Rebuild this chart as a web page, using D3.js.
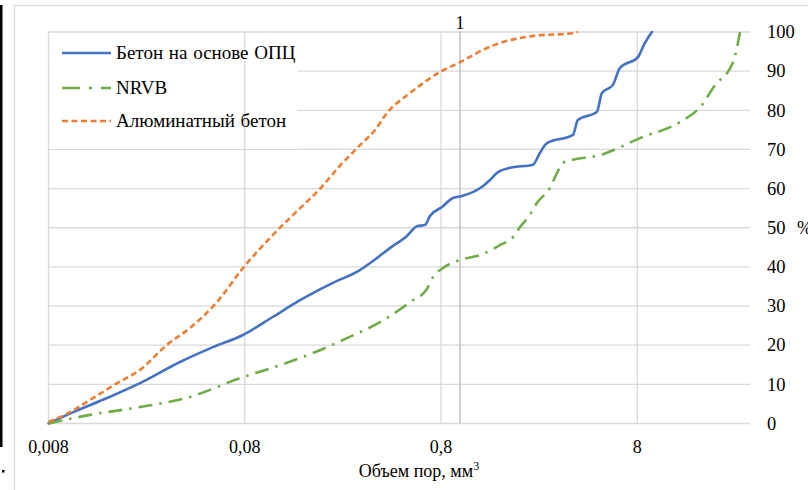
<!DOCTYPE html>
<html>
<head>
<meta charset="utf-8">
<script src="https://cdn.jsdelivr.net/npm/d3@7/dist/d3.min.js"></script>
<style>
  body { margin: 0; background: #fff; }
</style>
</head>
<body>
<div id="chart"></div>
<script>
// x = pore volume, mm3 (log axis), y = cumulative %
const opcX = [0.008, 0.0107, 0.0159, 0.0234, 0.0374, 0.0551, 0.0783, 0.111, 0.153, 0.178, 0.225, 0.309, 0.36, 0.439, 0.536, 0.603, 0.662, 0.702, 0.809, 0.92, 1.023, 1.29, 1.42, 1.54, 1.8, 2.35, 2.55, 2.77, 3.76, 3.98, 4.98, 5.28, 6.01, 6.52, 8.06, 8.74, 9.49];
const opcY = [0, 2.9, 6.5, 10.3, 15.7, 19.5, 22.6, 27.2, 31.5, 33.3, 35.9, 39.2, 41.5, 44.8, 47.9, 50.4, 50.7, 53.0, 55.3, 57.6, 58.1, 60.4, 62.2, 64.0, 65.3, 66.1, 69.1, 71.6, 73.7, 77.5, 79.6, 84.4, 86.5, 90.8, 93.6, 97.2, 100];

const nrvbX = [0.008, 0.013, 0.0234, 0.0421, 0.0756, 0.121, 0.178, 0.265, 0.391, 0.556, 0.678, 0.727, 0.818, 1.035, 1.26, 1.6, 1.86, 2.02, 2.27, 2.46, 2.87, 3.12, 3.34, 5.35, 8.25, 13.2, 16.7, 19.9, 24.6, 26.7];
const nrvbY = [0, 2.2, 4.2, 6.8, 11.6, 14.9, 18.0, 21.8, 25.9, 31.0, 34.4, 37.4, 39.7, 42.0, 43.0, 45.6, 47.6, 50.2, 53.3, 56.3, 60.2, 64.0, 66.6, 68.8, 72.9, 77.0, 80.8, 86.4, 92.3, 100];

const aluX = [0.008, 0.0103, 0.013, 0.0179, 0.0234, 0.0321, 0.0421, 0.0577, 0.0783, 0.111, 0.153, 0.193, 0.244, 0.309, 0.368, 0.424, 0.556, 0.79, 1.0, 1.37, 1.6, 2.35, 3.76, 3.98];
const aluY = [0.4, 2.9, 6.0, 10.3, 13.7, 20.1, 24.4, 31.0, 39.7, 48.1, 55.0, 59.9, 65.8, 71.1, 74.9, 79.3, 84.4, 89.8, 92.3, 95.9, 97.2, 99.0, 99.7, 100];

const seriesNames = ["Бетон на основе ОПЦ", "NRVB", "Алюминатный бетон"];
const xTicks = [0.008, 0.08, 0.8, 8];
const xTickLabels = ["0,008", "0,08", "0,8", "8"];
const yTicks = [0, 10, 20, 30, 40, 50, 60, 70, 80, 90, 100];

const width = 808, height = 490;
const svg = d3.select("#chart").append("svg").attr("width", width).attr("height", height)
  .attr("font-family", "'Liberation Serif', 'DejaVu Serif', serif");

// chart frame and page bits
svg.append("rect").attr("x", 14.5).attr("y", 5.5).attr("width", 800).attr("height", 500)
  .attr("fill", "#fff").attr("stroke", "#d9d9d9").attr("stroke-width", 1.2);
svg.append("rect").attr("x", 0).attr("y", 5).attr("width", 2.5).attr("height", 442).attr("fill", "#000");
svg.append("rect").attr("x", 2).attr("y", 470).attr("width", 2.5).attr("height", 2.5).attr("fill", "#000");

let x = d3.scaleLog().domain([0.008, 30]).range([48.5, 750]);
let y = d3.scaleLinear().domain([0, 100]).range([423.5, 32]);

// horizontal grid
svg.append("g").selectAll("line").data(yTicks).join("line")
  .attr("x1", x(0.008)).attr("x2", x(30))
  .attr("y1", d => y(d)).attr("y2", d => y(d))
  .attr("stroke", "#d9d9d9").attr("stroke-width", 1.3);

// legend background hides horizontal grid
svg.append("rect").attr("x", 49.5).attr("y", 33).attr("width", 248).attr("height", 116).attr("fill", "#fff");

// vertical grid
svg.append("g").selectAll("line").data(xTicks).join("line")
  .attr("x1", d => x(d)).attr("x2", d => x(d))
  .attr("y1", y(0)).attr("y2", y(100))
  .attr("stroke", "#d9d9d9").attr("stroke-width", 1.3);

// marker line at 1
svg.append("line").attr("x1", x(1)).attr("x2", x(1)).attr("y1", y(0)).attr("y2", y(100))
  .attr("stroke", "#bfbfbf").attr("stroke-width", 1.5);
svg.append("text").attr("x", x(1)).attr("y", 29).attr("text-anchor", "middle")
  .attr("font-size", 18).text("1");

// tick labels
svg.append("g").selectAll("text").data(xTicks).join("text")
  .attr("x", d => x(d)).attr("y", 453).attr("text-anchor", "middle").attr("font-size", 18)
  .text((d, i) => xTickLabels[i]);
svg.append("g").selectAll("text").data(yTicks).join("text")
  .attr("x", 767).attr("y", d => y(d)).attr("dy", "0.34em").attr("font-size", 18.5)
  .text(d => d);
svg.append("text").attr("x", 797).attr("y", y(50)).attr("dy", "0.34em").attr("font-size", 18).text("%");

let title = svg.append("text").attr("x", 419).attr("y", 477).attr("text-anchor", "middle").attr("font-size", 18);
title.append("tspan").text("Объем пор, мм");
title.append("tspan").attr("dy", -7).attr("font-size", 12).text("3");

// series
let line = d3.line().x(d => x(d[0])).y(d => y(d[1])).curve(d3.curveMonotoneX);
let series = [
  { xs: opcX, ys: opcY, color: "#4472c4", dash: null, cap: "round" },
  { xs: nrvbX, ys: nrvbY, color: "#70ad47", dash: "14,7,2.5,7", cap: "butt" },
  { xs: aluX, ys: aluY, color: "#ed7d31", dash: "6,3.5", cap: "butt" }
];
series.forEach(s => {
  let pts = s.xs.map((v, i) => [v, s.ys[i]]);
  svg.append("path").datum(pts).attr("d", line)
    .attr("fill", "none").attr("stroke", s.color).attr("stroke-width", 2.6)
    .attr("stroke-dasharray", s.dash).attr("stroke-linecap", s.cap);
});

// legend
let legendY = [53, 88, 121];
series.forEach((s, i) => {
  svg.append("line").attr("x1", 62).attr("x2", 111).attr("y1", legendY[i]).attr("y2", legendY[i])
    .attr("stroke", s.color).attr("stroke-width", 2.6)
    .attr("stroke-dasharray", i == 1 ? "18,9,3,9" : s.dash);
  svg.append("text").attr("x", 116).attr("y", legendY[i]).attr("dy", "0.33em").attr("font-size", 19)
    .attr("word-spacing", 1).text(seriesNames[i]);
});
</script>
</body>
</html>
